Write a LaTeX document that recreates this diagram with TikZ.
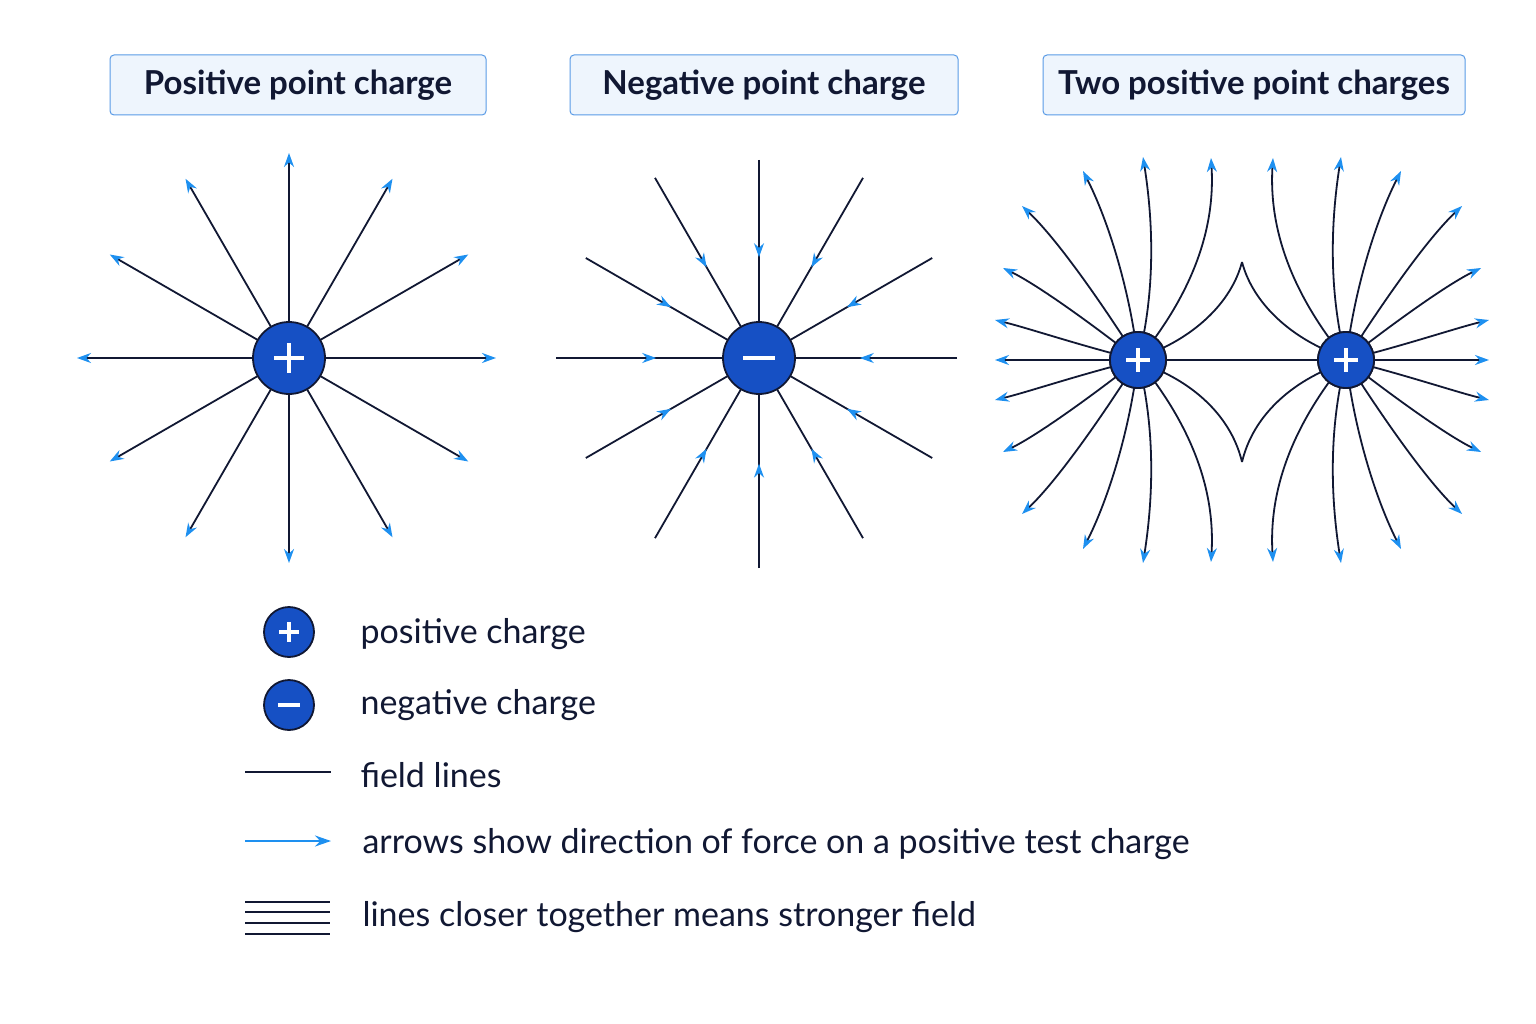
\documentclass[tikz,border=0pt]{standalone}
\usepackage{fontspec}
\setmainfont{Lato}
\usetikzlibrary{arrows.meta,decorations.markings,calc}
\definecolor{navy}{HTML}{111833}
\definecolor{ablue}{HTML}{1E90F0}
\definecolor{cblue}{HTML}{1650C4}
\definecolor{boxfill}{HTML}{EEF5FD}
\definecolor{boxdraw}{HTML}{5A9BE6}
\begin{document}
\begin{tikzpicture}[x=1pt,y=-1pt,
  fl/.style={draw=navy,line width=1.8pt},
  tip/.style={-{Stealth[color=ablue,length=14pt,width=10pt]}},
  mid/.style={postaction={decorate},decoration={markings,mark=at position #1 with {\arrow{Stealth[color=ablue,length=14pt,width=10pt]}}}},
  title/.style={draw=boxdraw,fill=boxfill,rounded corners=4pt,line width=1pt,font=\fontsize{33}{35}\selectfont\bfseries,text=navy,anchor=center,inner sep=0pt},
  lab/.style={font=\fontsize{34}{36}\selectfont,text=navy,anchor=west}]
\useasboundingbox[fill=white] (0,0) rectangle (1536,1024);
\newcommand{\charge}[4]{%
  \node[circle,draw=navy,fill=cblue,line width=1.8pt,minimum size=#4*2pt,inner sep=0pt] (#1) at (#2,#3) {};}
\newcommand{\plussign}[3]{\draw[white,line width=4pt] (#1-#3,#2) -- (#1+#3,#2) (#1,#2-#3) -- (#1,#2+#3);}
\newcommand{\minussign}[3]{\draw[white,line width=4pt] (#1-#3,#2) -- (#1+#3,#2);}
% titles
\node[title,minimum width=376pt,minimum height=60pt] (t1) at (298,85) {Positive point charge};
\node[title,minimum width=388pt,minimum height=60pt] (t2) at (764,85) {Negative point charge};
\node[title,minimum width=422pt,minimum height=60pt] (t3) at (1254,85) {Two positive point charges};
% panel 1
\charge{p1}{289}{358}{36}
\foreach \a/\r in {0/207,30/207,60/207,90/205,120/207,150/207,180/212,210/207,240/207,270/205,300/207,330/207}{
  \coordinate (s\a) at ($(p1)+(\a:36)$);
  \coordinate (e\a) at ($(p1)+(\a:\r)$);
  \draw[fl,tip] (s\a) -- (e\a);
}
\plussign{289}{358}{15}
% panel 2
\charge{n1}{759}{358}{36}
\foreach \a/\r in {0/198,30/200,60/208,90/210,120/208,150/200,180/203,210/200,240/208,270/198,300/208,330/200}{
  \coordinate (o\a) at ($(n1)+(\a:\r)$);
  \coordinate (i\a) at ($(n1)+(\a:36)$);
  \draw[fl,mid=0.6] (o\a) -- (i\a);
}
\minussign{759}{358}{16}
% panel 3
\charge{q1}{1138}{360}{28}
\charge{q2}{1346}{360}{28}
\coordinate (cu) at (1242,262);
\coordinate (cd) at (1242,462);
\draw[fl] (q1) -- (q2);
\draw[fl] (q1) .. controls (1200,330) and (1232,300) .. (cu);
\draw[fl] (q2) .. controls (1284,330) and (1252,300) .. (cu);
\draw[fl] (q1) .. controls (1200,390) and (1232,420) .. (cd);
\draw[fl] (q2) .. controls (1284,390) and (1252,420) .. (cd);
\foreach \s/\cx in {1/1138,-1/1346}{
 \begin{scope}[shift={(\cx,360)},xscale=\s]
  \foreach \sy in {1,-1}{
   \begin{scope}[yscale=\sy]
    \coordinate (a1) at (73,-202); \draw[fl,tip] (0,0) .. controls (45,-55) and (78,-120) .. (a1);
    \coordinate (a2) at (5,-203); \draw[fl,tip] (0,0) .. controls (18,-70) and (15,-140) .. (a2);
    \coordinate (a3) at (-55,-189); \draw[fl,tip] (0,0) .. controls (-8,-70) and (-30,-140) .. (a3);
    \coordinate (a4) at (-116,-154); \draw[fl,tip] (0,0) .. controls (-35,-55) and (-80,-120) .. (a4);
    \coordinate (a5) at (-135,-92); \draw[fl,tip] (0,0) .. controls (-45,-35) and (-100,-75) .. (a5);
    \coordinate (a6) at (-143,-40); \draw[fl,tip] (0,0) .. controls (-60,-15) and (-110,-32) .. (a6);
   \end{scope}}
  \coordinate (a0) at (-143,0); \draw[fl,tip] (0,0) -- (a0);
 \end{scope}}
\node[circle,draw=navy,fill=cblue,line width=1.8pt,minimum size=56pt,inner sep=0pt] at (q1) {};
\node[circle,draw=navy,fill=cblue,line width=1.8pt,minimum size=56pt,inner sep=0pt] at (q2) {};
\plussign{1138}{360}{12}
\plussign{1346}{360}{12}
% legend
\charge{lp}{289}{632}{25}\plussign{289}{632}{10}
\charge{ln}{289}{705}{25}\minussign{289}{705}{11}
\node[lab] (l1) at (357,634) {positive charge};
\node[lab] (l2) at (357,705) {negative charge};
\coordinate (f1) at (245,772); \coordinate (f2) at (331,772);
\draw[fl] (f1) -- (f2);
\node[lab] (l3) at (357,775) {field lines};
\coordinate (g1) at (245,841); \coordinate (g2) at (331,841);
\draw[draw=ablue,line width=2.2pt,-{Stealth[length=16pt,width=11pt]}] (g1) -- (g2);
\node[lab] (l4) at (359,844) {arrows show direction of force on a positive test charge};
\foreach \y in {902,912,923,934}{ \draw[fl] (245,\y) -- (330,\y); }
\node[lab] (l5) at (359,917) {lines closer together means stronger field};
\end{tikzpicture}
\end{document}
